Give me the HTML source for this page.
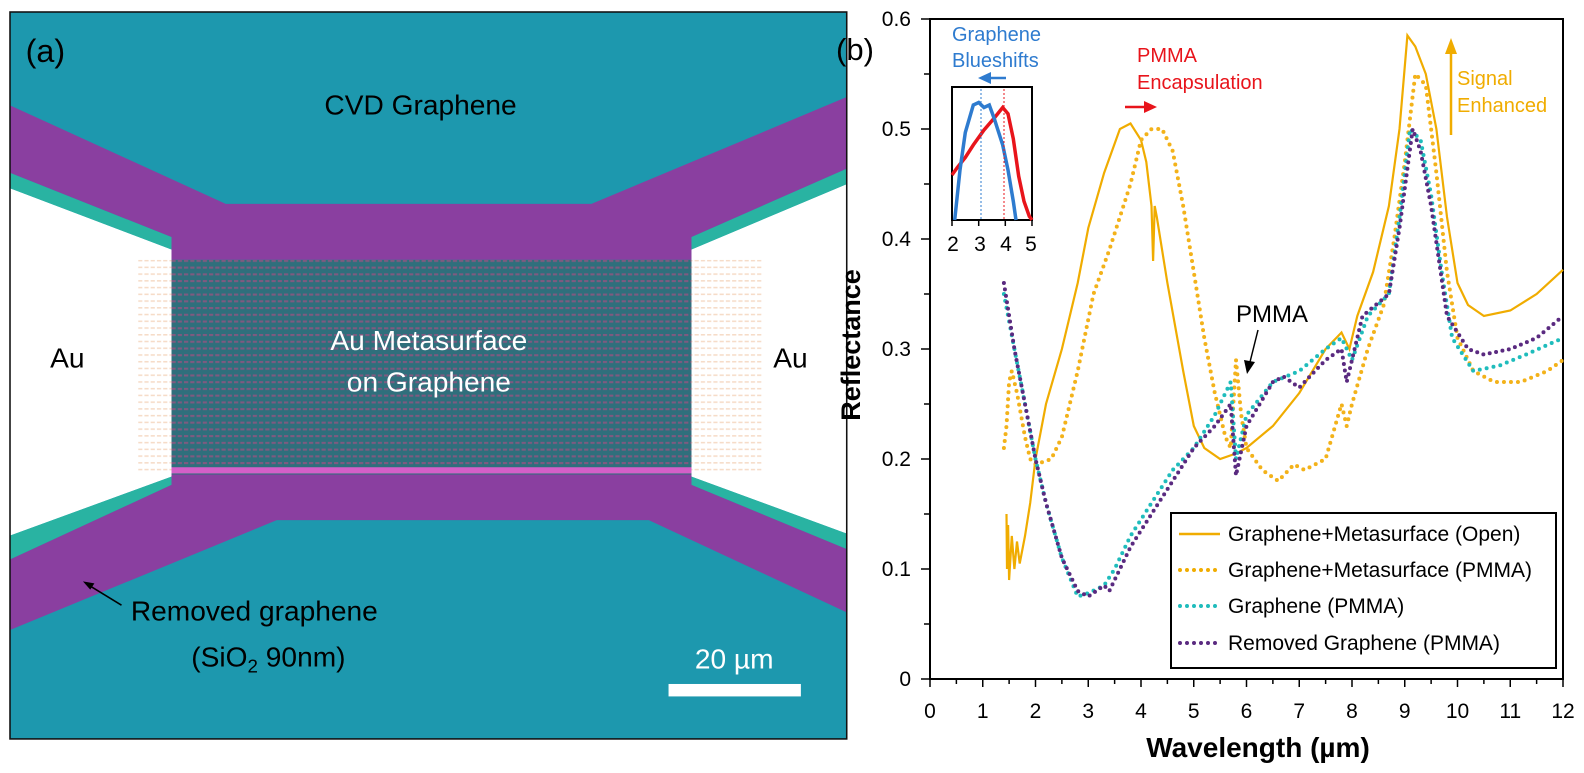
<!DOCTYPE html>
<html><head><meta charset="utf-8">
<style>
html,body{margin:0;padding:0;background:#fff;}
svg{display:block;font-family:"Liberation Sans",Arial,sans-serif;}
</style></head>
<body>
<svg id="s" width="1584" height="773" viewBox="0 0 1584 773" xmlns="http://www.w3.org/2000/svg">
<defs>
<pattern id="grid" x="165" y="251" width="6" height="6.5" patternUnits="userSpaceOnUse">
<rect width="6" height="6.5" fill="#2f6f7c"/>
<rect x="0" y="0" width="4" height="2" fill="#7f5a80"/>
</pattern>
<pattern id="gridf" x="133" y="251" width="6" height="6.5" patternUnits="userSpaceOnUse">
<rect width="6" height="6.5" fill="#fff"/>
<rect x="0" y="0" width="4" height="1.5" fill="#f6dcc8"/>
</pattern>
<clipPath id="cp"><rect x="10" y="12" width="803" height="701"/></clipPath>
</defs>
<g transform="translate(10,12) scale(1.042,1.037) translate(-10,-12)">
<g clip-path="url(#cp)">
<rect x="10" y="12" width="803" height="701" fill="#1d98ae"/>
<polygon points="10,182 165,241 165,460 10,517" fill="#fff"/>
<polygon points="813,178 664,241 664,460 813,515" fill="#fff"/>
<rect x="133" y="251" width="32" height="207" fill="url(#gridf)"/>
<rect x="664" y="251" width="68" height="207" fill="url(#gridf)"/>
<polygon points="10,167 165,229 165,241 10,182" fill="#29b3a2"/>
<polygon points="813,163 664,229 664,241 813,178" fill="#29b3a2"/>
<polygon points="10,517 165,460 165,468 10,540" fill="#29b3a2"/>
<polygon points="813,515 664,460 664,468 813,530" fill="#29b3a2"/>
<polygon points="10,102 217,197 568,197 813,94 813,163 664,229 664,251 165,251 165,229 10,167" fill="#8a3fa0"/>
<polygon points="165,458 664,458 664,468 813,530 813,591 623,502 266,502 10,608 10,540 165,468" fill="#8a3fa0"/>
<rect x="165" y="251" width="499" height="207" fill="url(#grid)"/>
<rect x="165" y="451" width="499" height="6" fill="#d45fc8"/>
</g>
<rect x="10" y="12" width="803" height="701" fill="none" stroke="#111" stroke-width="1.5"/>
<text x="25" y="60" font-size="31" fill="#000">(a)</text>
<text x="404" y="111" font-size="27" text-anchor="middle" fill="#000">CVD Graphene</text>
<text x="412" y="338" font-size="27" text-anchor="middle" fill="#fff">Au Metasurface</text>
<text x="412" y="378" font-size="27" text-anchor="middle" fill="#fff">on Graphene</text>
<text x="65" y="355" font-size="27" text-anchor="middle" fill="#000">Au</text>
<text x="759" y="355" font-size="27" text-anchor="middle" fill="#000">Au</text>
<text x="126" y="599" font-size="27" fill="#000">Removed graphene</text>
<text x="184" y="643" font-size="27" fill="#000">(SiO<tspan font-size="18" dy="6">2</tspan><tspan dy="-6"> 90nm)</tspan></text>
<line x1="117" y1="584" x2="86" y2="565" stroke="#000" stroke-width="1.5"/>
<polygon points="80,561 91,563 87,569" fill="#000"/>
<text x="705" y="645" font-size="27" text-anchor="middle" fill="#fff">20 µm</text>
<rect x="642" y="660" width="127" height="12" fill="#fff"/>
</g>

<text x="836" y="60" font-size="31" fill="#000">(b)</text>
<rect x="930" y="19" width="633" height="660" fill="none" stroke="#000" stroke-width="2"/>
<g id="ticks" stroke="#000" stroke-width="1.5"></g>
<g id="tl" font-size="21" fill="#000"></g>
<text transform="translate(860,345) rotate(-90)" font-size="27" font-weight="bold" text-anchor="middle">Reflectance</text>
<text x="1258" y="757" font-size="28" font-weight="bold" text-anchor="middle">Wavelength (µm)</text>
<g id="curves" fill="none"></g>

<rect x="952" y="87" width="80" height="133" fill="#fff" stroke="#000" stroke-width="2"/>
<g id="inset" fill="none"></g>
<line x1="981" y1="89" x2="981" y2="219" stroke="#2e7bcf" stroke-width="1" stroke-dasharray="2 2"/>
<line x1="1004" y1="89" x2="1004" y2="219" stroke="#e8141b" stroke-width="1" stroke-dasharray="2 2"/>
<g stroke="#000" stroke-width="1.5"><line x1="952" y1="220" x2="952" y2="226"/><line x1="978.7" y1="220" x2="978.7" y2="226"/><line x1="1005.3" y1="220" x2="1005.3" y2="226"/><line x1="1032" y1="220" x2="1032" y2="226"/></g>
<g font-size="21" text-anchor="middle"><text x="953" y="251">2</text><text x="980" y="251">3</text><text x="1006" y="251">4</text><text x="1031" y="251">5</text></g>

<text x="952" y="41" font-size="20" fill="#2e7bcf">Graphene</text>
<text x="952" y="67" font-size="20" fill="#2e7bcf">Blueshifts</text>
<line x1="1006" y1="78" x2="990" y2="78" stroke="#2e7bcf" stroke-width="2.5"/>
<polygon points="978,78 991,72 991,84" fill="#2e7bcf"/>
<text x="1137" y="62" font-size="20" fill="#e8141b">PMMA</text>
<text x="1137" y="89" font-size="20" fill="#e8141b">Encapsulation</text>
<line x1="1125" y1="107" x2="1145" y2="107" stroke="#e8141b" stroke-width="2.5"/>
<polygon points="1157,107 1144,101 1144,113" fill="#e8141b"/>
<text x="1457" y="85" font-size="20" fill="#f0ac00">Signal</text>
<text x="1457" y="112" font-size="20" fill="#f0ac00">Enhanced</text>
<line x1="1451" y1="135" x2="1451" y2="52" stroke="#f0ac00" stroke-width="2.5"/>
<polygon points="1451,38 1445,54 1457,54" fill="#f0ac00"/>
<text x="1236" y="322" font-size="24" fill="#000">PMMA</text>
<line x1="1258" y1="330" x2="1250" y2="362" stroke="#000" stroke-width="1.5"/>
<polygon points="1247,374 1244,360 1255,362" fill="#000"/>

<rect x="1171" y="513" width="385" height="155" fill="#fff" stroke="#000" stroke-width="2"/>
<g font-size="21" fill="#000">
<text x="1228" y="541">Graphene+Metasurface (Open)</text>
<text x="1228" y="577">Graphene+Metasurface (PMMA)</text>
<text x="1228" y="613">Graphene (PMMA)</text>
<text x="1228" y="650">Removed Graphene (PMMA)</text>
</g>
<line x1="1179" y1="534" x2="1220" y2="534" stroke="#f0ac00" stroke-width="2.5"/>
<line x1="1180" y1="570" x2="1220" y2="570" stroke="#f0ac00" stroke-width="4" stroke-linecap="round" stroke-dasharray="0 7"/>
<line x1="1180" y1="606" x2="1220" y2="606" stroke="#1fbcbc" stroke-width="4" stroke-linecap="round" stroke-dasharray="0 7"/>
<line x1="1180" y1="643" x2="1220" y2="643" stroke="#5a2a80" stroke-width="4" stroke-linecap="round" stroke-dasharray="0 7"/>
</svg>
<script>
(function(){
var NS="http://www.w3.org/2000/svg";
function X(v){return 930+v*52.75;} function Y(r){return 679-r*1100;}
function el(p,t,a){var e=document.createElementNS(NS,t);for(var k in a)e.setAttribute(k,a[k]);p.appendChild(e);return e;}
var tk=document.getElementById('ticks'), tl=document.getElementById('tl');
for(var i=0;i<=24;i++){var x=X(i/2);el(tk,'line',{x1:x,y1:679,x2:x,y2:i%2?684:687});
 if(i%2==0){var t=el(tl,'text',{x:x,y:718,'text-anchor':'middle'});t.textContent=i/2;}}
for(var j=0;j<=12;j++){var y=Y(j*0.05);el(tk,'line',{x1:930,y1:y,x2:j%2?924:921,y2:y});
 if(j%2==0){var t2=el(tl,'text',{x:911,y:y+7,'text-anchor':'end'});t2.textContent=(j==0?'0':(j*0.05).toFixed(1));}}
function path(d,fx,fy){var s='';for(var i=0;i<d.length;i+=2){s+=(i?'L':'M')+fx(d[i]).toFixed(1)+','+fy(d[i+1]).toFixed(1);}return s;}
var open=[1.45,0.15,1.46,0.1,1.48,0.14,1.5,0.09,1.55,0.13,1.6,0.1,1.65,0.125,1.7,0.105,1.8,0.13,1.9,0.16,2.0,0.2,2.2,0.25,2.5,0.3,2.8,0.36,3.0,0.41,3.3,0.46,3.6,0.5,3.8,0.505,4.0,0.49,4.1,0.47,4.2,0.43,4.23,0.38,4.26,0.43,4.3,0.42,4.5,0.36,4.8,0.28,5.0,0.23,5.2,0.21,5.5,0.2,5.8,0.205,6.0,0.21,6.5,0.23,7.0,0.26,7.5,0.3,7.8,0.315,7.95,0.3,8.1,0.33,8.4,0.37,8.7,0.43,8.9,0.5,9.05,0.585,9.2,0.575,9.4,0.55,9.6,0.5,9.8,0.42,10.0,0.36,10.2,0.34,10.5,0.33,11.0,0.335,11.5,0.35,12,0.372];
var pm=[1.4,0.21,1.45,0.23,1.5,0.27,1.55,0.28,1.65,0.26,1.8,0.22,1.9,0.2,2.0,0.195,2.3,0.2,2.5,0.22,2.8,0.28,3.1,0.35,3.4,0.39,3.6,0.42,3.8,0.45,4.0,0.49,4.2,0.5,4.4,0.5,4.6,0.48,4.8,0.43,5.0,0.37,5.2,0.31,5.4,0.26,5.6,0.22,5.7,0.21,5.8,0.29,5.9,0.24,6.0,0.21,6.3,0.19,6.6,0.18,6.9,0.195,7.1,0.19,7.5,0.2,7.8,0.25,7.9,0.23,8.0,0.25,8.3,0.3,8.6,0.34,8.8,0.4,9.0,0.47,9.2,0.55,9.4,0.54,9.6,0.46,9.8,0.37,10.0,0.31,10.3,0.28,10.7,0.27,11.2,0.27,11.7,0.28,12,0.29];
var cy=[1.4,0.35,1.6,0.3,1.8,0.25,2.0,0.2,2.2,0.16,2.5,0.11,2.8,0.075,3.0,0.078,3.3,0.085,3.5,0.1,3.8,0.13,4.2,0.16,4.6,0.19,5.0,0.21,5.4,0.24,5.7,0.27,5.8,0.2,6.0,0.24,6.5,0.27,7.0,0.28,7.5,0.3,7.8,0.31,8.0,0.29,8.3,0.33,8.7,0.35,8.9,0.42,9.1,0.5,9.3,0.49,9.5,0.44,9.7,0.37,9.9,0.31,10.3,0.28,10.8,0.285,11.3,0.295,12,0.31];
var pu=[1.4,0.36,1.6,0.3,1.8,0.25,2.0,0.2,2.2,0.16,2.5,0.11,2.8,0.08,3.0,0.075,3.3,0.085,3.4,0.08,3.5,0.09,3.8,0.12,4.2,0.15,4.6,0.18,5.0,0.21,5.4,0.23,5.7,0.25,5.8,0.185,6.0,0.23,6.5,0.27,6.7,0.275,7.0,0.265,7.5,0.29,7.8,0.3,7.9,0.27,8.2,0.33,8.7,0.35,8.9,0.41,9.15,0.5,9.3,0.48,9.5,0.43,9.8,0.33,10.2,0.3,10.5,0.295,11,0.3,11.5,0.31,12,0.33];
var g=document.getElementById('curves');
el(g,'path',{d:path(open,X,Y),stroke:'#f0ac00','stroke-width':2.2});
el(g,'path',{d:path(pm,X,Y),stroke:'#f3b21a','stroke-width':4,'stroke-linecap':'round','stroke-dasharray':'0 7'});
el(g,'path',{d:path(cy,X,Y),stroke:'#1fbcbc','stroke-width':4,'stroke-linecap':'round','stroke-dasharray':'0 7'});
el(g,'path',{d:path(pu,X,Y),stroke:'#5a2a80','stroke-width':4,'stroke-linecap':'round','stroke-dasharray':'0 6.5'});
function IX(v){return 952+(v-2)*26.67;} function IY(r){return 220-r*125;}
var ig=document.getElementById('inset');
var red=[2,0.36,2.2,0.42,2.5,0.5,2.8,0.6,3.2,0.72,3.6,0.82,3.9,0.9,4.1,0.85,4.3,0.65,4.5,0.35,4.7,0.15,4.9,0.03,5,0];
var blue=[2.1,0,2.3,0.4,2.5,0.7,2.8,0.92,3.0,0.94,3.2,0.9,3.4,0.92,3.6,0.8,3.9,0.6,4.1,0.4,4.3,0.15,4.4,0];
el(ig,'path',{d:path(red,IX,IY),stroke:'#e8141b','stroke-width':3.5});
el(ig,'path',{d:path(blue,IX,IY),stroke:'#2e7bcf','stroke-width':3.5});
})();
</script>
</body></html>
